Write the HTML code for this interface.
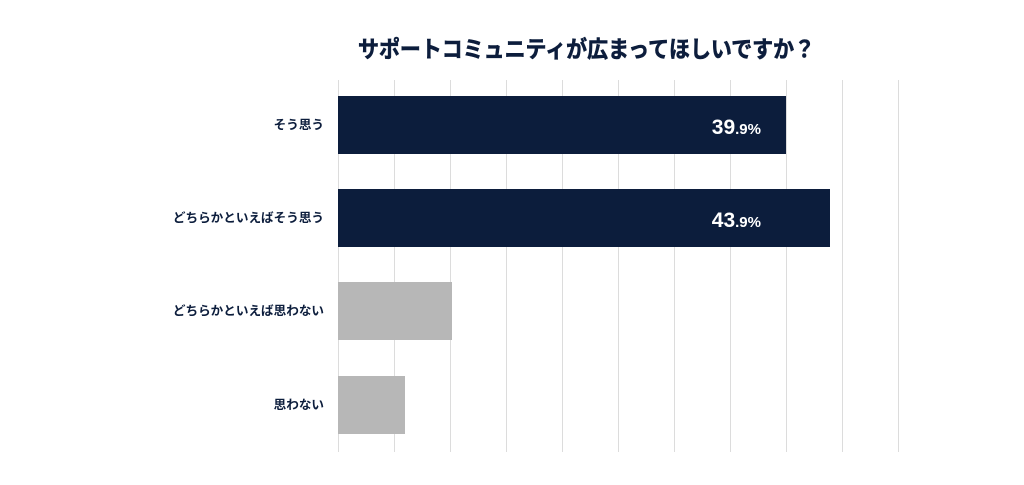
<!DOCTYPE html>
<html><head><meta charset="utf-8"><style>
body{margin:0;background:#fff;}
svg text{font-family:"Liberation Sans","Noto Sans CJK JP",sans-serif;font-weight:bold;}
</style></head><body>
<svg width="1024" height="480" xmlns="http://www.w3.org/2000/svg">
<rect width="1024" height="480" fill="#fff"/>
<text x="358" y="57" font-size="23" fill="#0c1d3c" textLength="457" lengthAdjust="spacingAndGlyphs" stroke="#0c1d3c" stroke-width="0.6">サポートコミュニティが広まってほしいですか？</text>
<g stroke="#dcdcdc" stroke-width="1">
<line x1="338.5" y1="80" x2="338.5" y2="452"/>
<line x1="394.5" y1="80" x2="394.5" y2="452"/>
<line x1="450.5" y1="80" x2="450.5" y2="452"/>
<line x1="506.5" y1="80" x2="506.5" y2="452"/>
<line x1="562.5" y1="80" x2="562.5" y2="452"/>
<line x1="618.5" y1="80" x2="618.5" y2="452"/>
<line x1="674.5" y1="80" x2="674.5" y2="452"/>
<line x1="730.5" y1="80" x2="730.5" y2="452"/>
<line x1="786.5" y1="80" x2="786.5" y2="452"/>
<line x1="842.5" y1="80" x2="842.5" y2="452"/>
<line x1="898.5" y1="80" x2="898.5" y2="452"/>
</g>
<rect x="338" y="96" width="448" height="58" fill="#0c1d3c"/>
<rect x="338" y="189" width="492" height="58" fill="#0c1d3c"/>
<rect x="338" y="282" width="114" height="58" fill="#b7b7b7"/>
<rect x="338" y="376" width="67" height="58" fill="#b7b7b7"/>
<text x="761" y="134" fill="#fff" text-anchor="end"><tspan font-size="21">39</tspan><tspan font-size="15">.9%</tspan></text>
<text x="761" y="227" fill="#fff" text-anchor="end"><tspan font-size="21">43</tspan><tspan font-size="15">.9%</tspan></text>
<g font-size="12.6" fill="#0c1d3c" text-anchor="end">
<text x="324" y="129">そう思う</text>
<text x="324" y="222">どちらかといえばそう思う</text>
<text x="324" y="315">どちらかといえば思わない</text>
<text x="324" y="409">思わない</text>
</g>
</svg>
</body></html>
